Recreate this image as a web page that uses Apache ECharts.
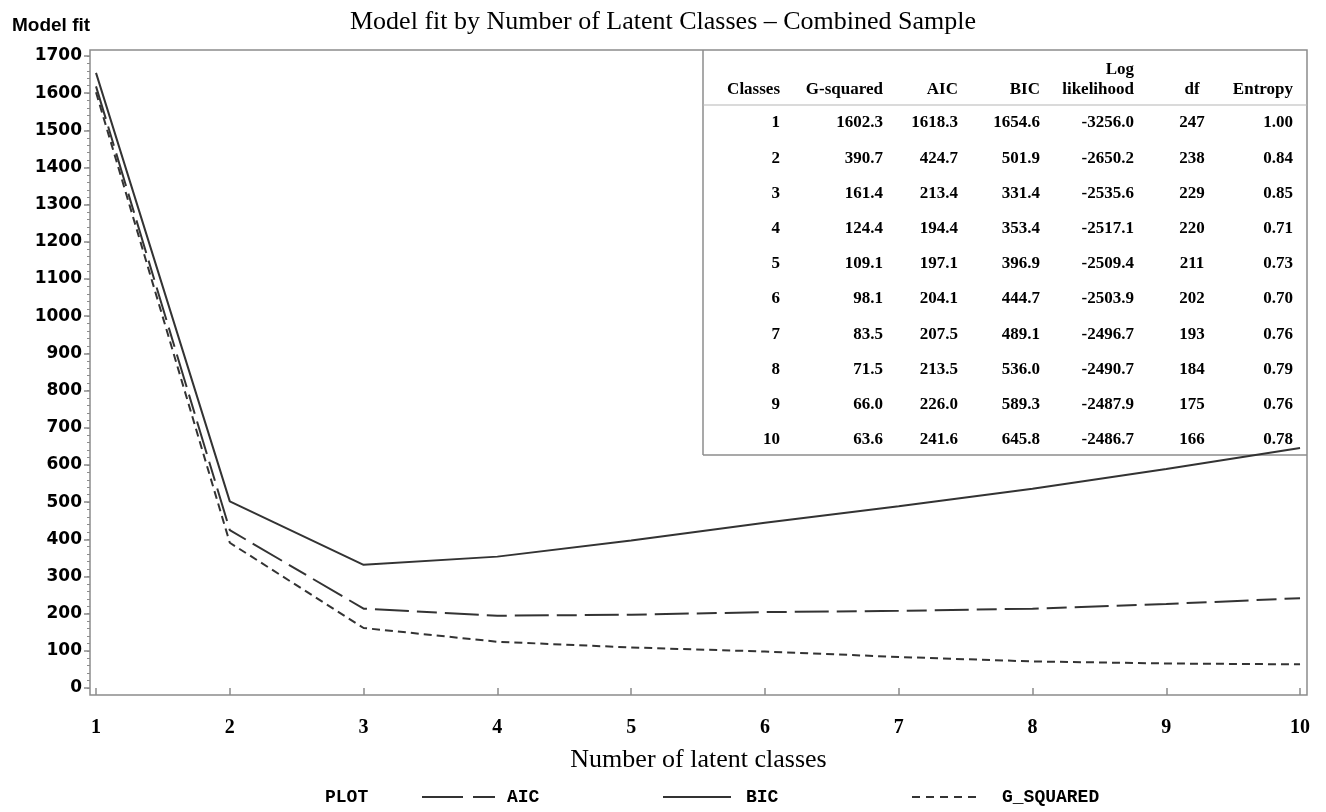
<!DOCTYPE html>
<html><head><meta charset="utf-8">
<script src="https://cdn.jsdelivr.net/npm/echarts@6/dist/echarts.min.js"></script>
<style>html,body{margin:0;padding:0;background:#fff}#c{width:1326px;height:812px}</style>
</head><body><div id="c"></div>
<script>
// ---- data ----
const classes = [1, 2, 3, 4, 5, 6, 7, 8, 9, 10];
const gSquared = [1602.3, 390.7, 161.4, 124.4, 109.1, 98.1, 83.5, 71.5, 66.0, 63.6];
const aic = [1618.3, 424.7, 213.4, 194.4, 197.1, 204.1, 207.5, 213.5, 226.0, 241.6];
const bic = [1654.6, 501.9, 331.4, 353.4, 396.9, 444.7, 489.1, 536.0, 589.3, 645.8];
const logLik = [-3256.0, -2650.2, -2535.6, -2517.1, -2509.4, -2503.9, -2496.7, -2490.7, -2487.9, -2486.7];
const dfs = [247, 238, 229, 220, 211, 202, 193, 184, 175, 166];
const entropy = [1.00, 0.84, 0.85, 0.71, 0.73, 0.70, 0.76, 0.79, 0.76, 0.78];
const yTicks = [0, 100, 200, 300, 400, 500, 600, 700, 800, 900, 1000, 1100, 1200, 1300, 1400, 1500, 1600, 1700];
const yMinorTicks = Array.from({length: 86}, (_, i) => i * 20);
const xTicks = [1, 2, 3, 4, 5, 6, 7, 8, 9, 10];
const tableHeaders = ['Classes', 'G-squared', 'AIC', 'BIC', 'likelihood', 'df', 'Entropy'];

// ---- layout ----
const frameColor = '#8c8c8c';
const lineColor = '#333333';
const serif = '"Liberation Serif", "Times New Roman", serif';
const mono = '"Liberation Mono", "Courier New", monospace';
const sans = '"Liberation Sans", Arial, sans-serif';

const tblLeft = 703, tblRight = 1307, tblTop = 50, tblBottom = 455, tblSep = 105;
const rowY0 = 123, rowStep = 35.2;
const colX = [780, 883, 958, 1040, 1134, 1192, 1293];
const colAlign = ['right', 'right', 'right', 'right', 'right', 'center', 'right'];
const tblFont = 'bold 17px ' + serif;

const tableEls = [];
tableEls.push({type: 'line', shape: {x1: tblLeft, y1: tblTop, x2: tblLeft, y2: tblBottom}, style: {stroke: frameColor, lineWidth: 1.5}, z: 5});
tableEls.push({type: 'line', shape: {x1: tblLeft, y1: tblBottom, x2: tblRight, y2: tblBottom}, style: {stroke: frameColor, lineWidth: 1.5}, z: 5});
tableEls.push({type: 'line', shape: {x1: tblLeft, y1: tblSep, x2: tblRight, y2: tblSep}, style: {stroke: '#b5b5b5', lineWidth: 1.2}, z: 5});
tableHeaders.forEach((h, i) => {
  tableEls.push({type: 'text', x: colX[i], y: 90, z: 6, style: {text: h, font: tblFont, fill: '#000', align: colAlign[i], verticalAlign: 'middle'}});
});
tableEls.push({type: 'text', x: colX[4], y: 70, z: 6, style: {text: 'Log', font: tblFont, fill: '#000', align: 'right', verticalAlign: 'middle'}});
classes.forEach((c, r) => {
  const vals = [String(c), gSquared[r].toFixed(1), aic[r].toFixed(1), bic[r].toFixed(1), logLik[r].toFixed(1), String(dfs[r]), entropy[r].toFixed(2)];
  vals.forEach((v, i) => {
    tableEls.push({type: 'text', x: colX[i], y: rowY0 + r * rowStep, z: 6, style: {text: v, font: tblFont, fill: '#000', align: colAlign[i], verticalAlign: 'middle'}});
  });
});

const legY = 797;
const legFont = 'bold 18px ' + mono;
const legendEls = [
  {type: 'text', x: 325, y: legY, style: {text: 'PLOT', font: legFont, fill: '#000', verticalAlign: 'middle'}},
  {type: 'line', shape: {x1: 422, y1: legY, x2: 463, y2: legY}, style: {stroke: lineColor, lineWidth: 2}},
  {type: 'line', shape: {x1: 473, y1: legY, x2: 495, y2: legY}, style: {stroke: lineColor, lineWidth: 2}},
  {type: 'text', x: 507, y: legY, style: {text: 'AIC', font: legFont, fill: '#000', verticalAlign: 'middle'}},
  {type: 'line', shape: {x1: 663, y1: legY, x2: 731, y2: legY}, style: {stroke: lineColor, lineWidth: 2}},
  {type: 'text', x: 746, y: legY, style: {text: 'BIC', font: legFont, fill: '#000', verticalAlign: 'middle'}},
  {type: 'line', shape: {x1: 912, y1: legY, x2: 981, y2: legY}, style: {stroke: lineColor, lineWidth: 2, lineDash: [8, 6]}},
  {type: 'text', x: 1002, y: legY, style: {text: 'G_SQUARED', font: legFont, fill: '#000', verticalAlign: 'middle'}}
];

const chart = echarts.init(document.getElementById('c'), null, {renderer: 'canvas'});
const option = {
  animation: false,
  backgroundColor: '#fff',
  title: {
    text: 'Model fit by Number of Latent Classes – Combined Sample',
    left: 345, top: 4,
    textStyle: {fontFamily: serif, fontWeight: 'normal', fontSize: 26, color: '#000'}
  },
  grid: {left: 90, top: 50, right: 19, bottom: 117, show: true, borderColor: frameColor, borderWidth: 1.5, backgroundColor: 'transparent'},
  xAxis: {
    type: 'value', min: 0.955, max: 10.052,
    name: 'Number of latent classes', nameLocation: 'middle', nameGap: 52,
    nameTextStyle: {fontFamily: serif, fontSize: 26, color: '#000'},
    axisLine: {show: false},
    splitLine: {show: false},
    axisTick: {show: true, customValues: xTicks, length: 7, lineStyle: {color: frameColor, width: 1.5}},
    axisLabel: {customValues: xTicks, margin: 23, fontFamily: serif, fontWeight: 'bold', fontSize: 20, color: '#000',
      formatter: v => String(v)}
  },
  yAxis: [{
    type: 'value', min: -18.8, max: 1716.1,
    axisLine: {show: false},
    splitLine: {show: false},
    axisTick: {show: true, customValues: yTicks, length: 6, lineStyle: {color: frameColor, width: 1.5}},
    axisLabel: {customValues: yTicks, margin: 8, fontFamily: '"DejaVu Sans", sans-serif', fontWeight: 'bold', fontSize: 17, color: '#000',
      formatter: v => String(v)}
  }, {
    type: 'value', min: -18.8, max: 1716.1, position: 'left',
    axisLine: {show: false}, splitLine: {show: false},
    axisTick: {show: true, customValues: yMinorTicks, length: 3, lineStyle: {color: frameColor, width: 1}},
    axisLabel: {show: false}
  }],
  series: [
    {name: 'AIC', type: 'line', data: classes.map((c, i) => [c, aic[i]]), symbol: 'none', z: 10,
     lineStyle: {color: lineColor, width: 2, type: [34, 8, 20, 8]}},
    {name: 'BIC', type: 'line', data: classes.map((c, i) => [c, bic[i]]), symbol: 'none', z: 10,
     lineStyle: {color: lineColor, width: 2, type: 'solid'}},
    {name: 'G_SQUARED', type: 'line', data: classes.map((c, i) => [c, gSquared[i]]), symbol: 'none', z: 10,
     lineStyle: {color: lineColor, width: 2, type: [8, 5]}}
  ],
  graphic: [
    {type: 'text', x: 12, y: 26, style: {text: 'Model fit', font: 'bold 19px ' + sans, fill: '#000', verticalAlign: 'middle'}},
    {type: 'group', children: tableEls},
    {type: 'group', children: legendEls}
  ]
};
chart.setOption(option);
</script>
</body></html>
